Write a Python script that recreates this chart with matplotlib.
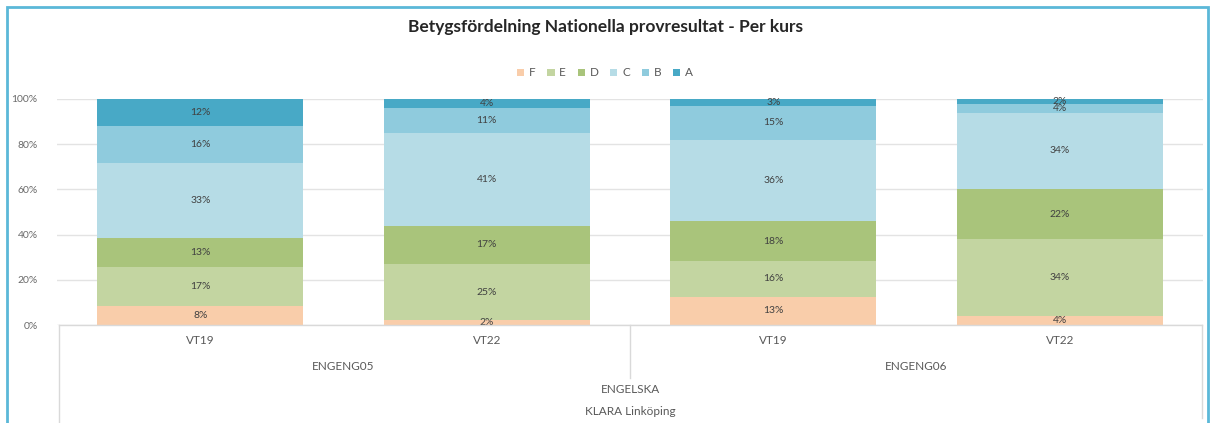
import matplotlib
matplotlib.use("Agg")
import matplotlib.pyplot as plt
from matplotlib.patches import Rectangle
from matplotlib.lines import Line2D
import matplotlib.transforms as mtrans
import numpy as np

plt.rcParams['font.family'] = ['Lato', 'DejaVu Sans']

periods = ["VT19", "VT22", "VT19", "VT22"]
courses = ["ENGENG05", "ENGENG06"]
subject = "ENGELSKA"
school = "KLARA Linköping"
grades = ["F", "E", "D", "C", "B", "A"]
F = [8.3, 2.0, 12.6, 4.0]
E = [17.4, 25.0, 15.6, 34.0]
D = [12.8, 17.0, 17.8, 22.0]
C = [33.3, 41.0, 36.0, 34.0]
B = [16.2, 11.0, 15.0, 4.0]
A = [12.0, 4.0, 3.0, 2.0]
series = [F, E, D, C, B, A]
colors = ["#f9cdaa", "#c3d5a1", "#a9c47b", "#b6dce6", "#8fcbdd", "#48a9c6"]

W, H = 1212, 423
fig = plt.figure(figsize=(W / 100, H / 100), dpi=100)
ax = fig.add_axes([57 / W, 1 - 325 / H, (1203 - 57) / W, (325 - 99) / H])

x = np.arange(len(periods))
bottom = np.zeros(len(periods))
for g, vals, col in zip(grades, series, colors):
    vals = np.array(vals)
    ax.bar(x, vals, 0.72, bottom=bottom, color=col, label=g, zorder=2)
    for xi, b, v in zip(x, bottom, vals):
        ax.text(xi, b + v / 2, f"{round(v):.0f}%", ha="center", va="center",
                fontsize=7.5, color="#404040", zorder=3)
    bottom += vals

ax.set_xlim(-0.5, len(periods) - 0.5)
ax.set_ylim(0, 100)
ax.set_yticks(np.arange(0, 101, 20))
ax.set_yticklabels([f"{v}%" for v in range(0, 101, 20)], fontsize=7.5, color="#6a6a6a")
ax.grid(axis="y", color="#e3e3e3", linewidth=1, zorder=0)
ax.tick_params(axis="y", length=0, pad=14)
ax.set_xticks([])
for s in ["top", "right", "left", "bottom"]:
    ax.spines[s].set_visible(False)


def fx(px):
    return px / W


def fy(py):
    return 1 - py / H


blend = mtrans.blended_transform_factory(ax.transData, fig.transFigure)
for xi, p in zip(x, periods):
    ax.text(xi, fy(340), p, transform=blend, ha="center", va="center",
            fontsize=8.5, color="#595959")
for i, c in enumerate(courses):
    ax.text(2 * i + 0.5, fy(366), c, transform=blend, ha="center", va="center",
            fontsize=8.5, color="#595959")
fig.text(0.5 * (57 + 1203) / W, fy(389), subject, ha="center", va="center", fontsize=8.5, color="#595959")
fig.text(0.5 * (57 + 1203) / W, fy(411), school, ha="center", va="center", fontsize=8.5, color="#595959")

lc = "#d9d9d9"
fig.add_artist(Line2D([fx(59), fx(1202)], [fy(325), fy(325)], color=lc, lw=1))
fig.add_artist(Line2D([fx(59), fx(59)], [fy(325), fy(423)], color=lc, lw=1))
fig.add_artist(Line2D([fx(1202), fx(1202)], [fy(325), fy(418)], color=lc, lw=1))
ax.plot([1.5, 1.5], [fy(325), fy(378)], transform=blend, color=lc, lw=1, clip_on=False)

fig.text(0.5, fy(27), "Betygsfördelning Nationella provresultat - Per kurs",
         ha="center", va="center", fontsize=12.5, fontweight="bold", color="#262626")
fig.legend(loc="center", bbox_to_anchor=(605 / W, fy(73)), ncol=6, frameon=False,
           fontsize=8.5, handlelength=0.6, handleheight=0.6, columnspacing=1.0,
           handletextpad=0.4, labelcolor="#595959")

fig.add_artist(Rectangle((fx(7), -0.05), fx(1201), fy(7) + 0.05, transform=fig.transFigure,
                         fill=False, edgecolor="#5bb8d8", lw=2))

fig.savefig("out.png", dpi=100, facecolor="white")
